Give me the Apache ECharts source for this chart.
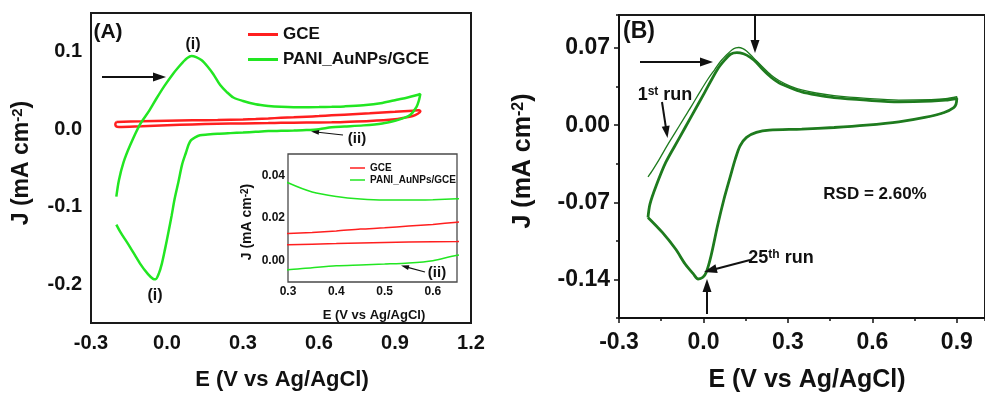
<!DOCTYPE html>
<html>
<head>
<meta charset="utf-8">
<script src="https://cdn.jsdelivr.net/npm/echarts@6/dist/echarts.min.js"></script>
<style>
  html, body { margin: 0; padding: 0; background: #ffffff; }
  #chart { width: 985px; height: 395px; }
</style>
</head>
<body>
<div id="chart"></div>
<script>
// ---------- Panel A: CVs of bare GCE and PANI_AuNPs/GCE ----------
const greenFwdE = [-0.2, -0.19, -0.172, -0.146, -0.107, -0.07, -0.041, -0.01, 0.025, 0.045, 0.064, 0.08, 0.097, 0.115, 0.137, 0.16, 0.183, 0.21, 0.236, 0.262, 0.3, 0.35, 0.4, 0.45, 0.5, 0.55, 0.6, 0.65, 0.7, 0.775, 0.85, 0.907, 0.95, 0.98, 1.0];
const greenFwdJ = [-0.087, -0.066, -0.043, -0.021, 0.006, 0.024, 0.040, 0.056, 0.072, 0.080, 0.087, 0.092, 0.0945, 0.093, 0.089, 0.081, 0.071, 0.057, 0.048, 0.041, 0.0365, 0.0322, 0.0301, 0.0289, 0.0284, 0.0284, 0.0286, 0.029, 0.0295, 0.031, 0.034, 0.038, 0.041, 0.0435, 0.0455];
const greenRevE = [1.0, 0.995, 0.985, 0.96, 0.93, 0.9, 0.85, 0.775, 0.7, 0.65, 0.6, 0.55, 0.5, 0.45, 0.4, 0.35, 0.3, 0.25, 0.2, 0.16, 0.13, 0.111, 0.095, 0.085, 0.075, 0.06, 0.045, 0.03, 0.018, 0.005, -0.008, -0.02, -0.032, -0.045, -0.055, -0.075, -0.107, -0.146, -0.185, -0.2];
const greenRevJ = [0.0455, 0.038, 0.029, 0.0184, 0.014, 0.011, 0.0075, 0.005, 0.0035, 0.0025, 0.0, -0.0011, -0.0016, -0.002, -0.0024, -0.0033, -0.0043, -0.0050, -0.0058, -0.0068, -0.0078, -0.0104, -0.014, -0.020, -0.030, -0.045, -0.068, -0.090, -0.112, -0.134, -0.155, -0.173, -0.186, -0.1935, -0.193, -0.187, -0.173, -0.152, -0.132, -0.123];

const redFwdE = [-0.2, -0.1, 0.0, 0.1, 0.2, 0.3, 0.35, 0.4, 0.45, 0.5, 0.55, 0.6, 0.65, 0.7, 0.8, 0.9, 0.97, 0.995];
const redFwdJ = [0.0095, 0.0102, 0.011, 0.0115, 0.012, 0.0127, 0.0132, 0.0139, 0.0148, 0.0154, 0.0162, 0.017, 0.018, 0.0188, 0.0205, 0.0225, 0.024, 0.0245];
const redRevE = [1.0, 0.99, 0.97, 0.93, 0.9, 0.8, 0.7, 0.65, 0.55, 0.45, 0.4, 0.3, 0.2, 0.1, 0.0, -0.1, -0.19, -0.2, -0.204, -0.2];
const redRevJ = [0.023, 0.020, 0.017, 0.0145, 0.013, 0.0108, 0.0095, 0.009, 0.0087, 0.0083, 0.008, 0.0075, 0.007, 0.0062, 0.0052, 0.004, 0.003, 0.0035, 0.0065, 0.0095];

// ---------- Panel B: 25 repeated cycles ----------
const run1FwdE = [-0.197, -0.18, -0.157, -0.13, -0.1, -0.07, -0.042, -0.013, 0.0155, 0.04, 0.061, 0.085, 0.102, 0.115, 0.125, 0.14, 0.153, 0.177, 0.211, 0.24, 0.268, 0.308, 0.349, 0.4, 0.464, 0.579, 0.694, 0.809, 0.86, 0.9];
const run1FwdJ = [-0.047, -0.0405, -0.031, -0.019, -0.0066, 0.006, 0.0175, 0.030, 0.0417, 0.0505, 0.058, 0.0645, 0.0685, 0.0702, 0.0705, 0.0695, 0.0673, 0.0613, 0.0525, 0.0455, 0.0405, 0.0355, 0.032, 0.0292, 0.0268, 0.0243, 0.0228, 0.0232, 0.024, 0.0258];
const runNFwdE = [-0.197, -0.19, -0.168, -0.134, -0.088, -0.042, 0.004, 0.05, 0.075, 0.096, 0.119, 0.142, 0.165, 0.188, 0.211, 0.24, 0.268, 0.308, 0.349, 0.4, 0.464, 0.579, 0.694, 0.809, 0.86, 0.9];
const runNFwdJ = [-0.0837, -0.0716, -0.055, -0.0338, -0.0127, 0.0084, 0.0296, 0.0508, 0.059, 0.0644, 0.0659, 0.0648, 0.0618, 0.057, 0.0505, 0.0435, 0.0385, 0.034, 0.0302, 0.0275, 0.025, 0.0227, 0.0212, 0.0218, 0.0227, 0.0242];
const runRevE = [0.9, 0.897, 0.889, 0.855, 0.786, 0.694, 0.579, 0.464, 0.349, 0.234, 0.188, 0.153, 0.13, 0.113, 0.096, 0.073, 0.05, 0.027, 0.01, -0.002, -0.019, -0.036, -0.065, -0.099, -0.146, -0.197];
const runRevJ = [0.0242, 0.019, 0.016, 0.0115, 0.007, 0.003, 0.0, -0.0021, -0.0036, -0.0045, -0.0066, -0.011, -0.0187, -0.0308, -0.046, -0.067, -0.0913, -0.1185, -0.1335, -0.138, -0.1396, -0.135, -0.126, -0.1124, -0.0973, -0.0837];

const FONT = '"Liberation Sans", Arial, sans-serif';
const INK = '#111111';
const RED = '#ff1f1f';
const GREEN = '#22e622';
const DARKGREEN = '#1e7b1e';

function zip(xs, ys) { return xs.map((x, i) => [x, ys[i]]); }
const greenLoop = zip(greenFwdE, greenFwdJ).concat(zip(greenRevE, greenRevJ));
const redLoop = zip(redFwdE, redFwdJ).concat(zip(redRevE, redRevJ));
const run1Loop = zip(run1FwdE, run1FwdJ).concat(zip(runRevE, runRevJ));
const runNLoop = zip(runNFwdE, runNFwdJ).concat(zip(runRevE, runRevJ));

function boldText(size) {
  return { color: INK, fontWeight: 'bold', fontFamily: FONT, fontSize: size };
}
function everyOther(step, digits) {
  return v => (Math.abs(Math.round(v / step)) % 2 === 0 ? v.toFixed(digits) : '');
}

function label(text, x, y, size, extra, rotation) {
  return {
    type: 'text', x: x, y: y, z: 100, rotation: rotation || 0,
    style: Object.assign({
      text: text, fill: INK, fontSize: size, fontWeight: 'bold', fontFamily: FONT,
      align: 'center', verticalAlign: 'middle', textAlign: 'center', textVerticalAlign: 'middle'
    }, extra || {})
  };
}
function supRich(size) {
  return { sup: { fontSize: size, fontWeight: 'bold', fontFamily: FONT, fill: INK, verticalAlign: 'top' } };
}
function arrow(x1, y1, x2, y2, w, hl, hw) {
  const dx = x2 - x1, dy = y2 - y1, L = Math.hypot(dx, dy), ux = dx / L, uy = dy / L;
  const bx = x2 - ux * hl, by = y2 - uy * hl, px = -uy, py = ux;
  return [
    { type: 'line', z: 100, shape: { x1: x1, y1: y1, x2: bx + ux, y2: by + uy }, style: { stroke: INK, lineWidth: w } },
    { type: 'polygon', z: 100, shape: { points: [[x2, y2], [bx + px * hw / 2, by + py * hw / 2], [bx - px * hw / 2, by - py * hw / 2]] }, style: { fill: INK } }
  ];
}

const graphics = [].concat(
  [
    label('(A)', 108, 32, 21),
    label('(i)', 193, 45, 16),
    label('(i)', 155, 296, 16),
    label('(ii)', 357, 139, 15),
    label('(ii)', 437, 273, 15),
    label('E (V vs Ag/AgCl)', 282, 380, 22),
    label('E (V vs Ag/AgCl)', 374, 315, 13),
    label('J (mA cm{sup|-2})', 22, 163, 23, { rich: supRich(15) }, Math.PI / 2),
    label('J (mA cm{sup|-2})', 247, 222, 14, { rich: supRich(10) }, Math.PI / 2),
    label('(B)', 639, 32, 23),
    label('E (V vs Ag/AgCl)', 807, 380, 25),
    label('J (mA cm{sup|-2})', 523, 161, 25, { rich: supRich(16) }, Math.PI / 2),
    label('RSD = 2.60%', 875, 194, 17),
    label('1{sup|st} run', 665, 95, 18, { rich: supRich(12) }),
    label('25{sup|th} run', 781, 258, 18, { rich: supRich(12) })
  ],
  arrow(102, 77, 166, 77, 2, 13, 9),
  arrow(343, 135, 311, 131.5, 1.2, 8, 5),
  arrow(425, 272, 401, 265.5, 1.2, 8, 5),
  arrow(640, 62, 713, 62, 2, 13, 9),
  arrow(755, 14, 755, 53, 2, 13, 9),
  arrow(662, 102, 667.5, 138, 2, 12, 8),
  arrow(750, 260, 704, 272, 2, 13, 9),
  arrow(707, 314, 707, 279, 2, 13, 9)
);

const chart = echarts.init(document.getElementById('chart'), null, { renderer: 'canvas' });
chart.setOption({
  animation: false,
  backgroundColor: '#ffffff',
  grid: [
    { left: 91, top: 13, width: 380, height: 310, show: true, borderColor: '#1a1a1a', borderWidth: 2, containLabel: false },
    { left: 288, top: 154, width: 169, height: 128, show: true, borderColor: '#4a4a4a', borderWidth: 1.3, containLabel: false },
    { left: 619, top: 15, width: 377, height: 303, show: true, borderColor: '#1a1a1a', borderWidth: 2, containLabel: false }
  ],
  xAxis: [
    { gridIndex: 0, type: 'value', position: 'bottom', min: -0.3, max: 1.2, interval: 0.3,
      axisLine: { show: false, onZero: false }, axisTick: { show: false }, splitLine: { show: false },
      axisLabel: Object.assign(boldText(20), { margin: 10, formatter: v => v.toFixed(1) }) },
    { gridIndex: 1, type: 'value', position: 'bottom', min: 0.3, max: 0.65, interval: 0.1,
      axisLine: { show: false, onZero: false }, axisTick: { show: false }, splitLine: { show: false },
      axisLabel: Object.assign(boldText(12), { margin: 4, showMaxLabel: false,
        formatter: v => (Math.abs(v * 10 - Math.round(v * 10)) < 1e-6 ? v.toFixed(1) : '') }) },
    { gridIndex: 2, type: 'value', position: 'bottom', min: -0.3, max: 1.0, interval: 0.3,
      axisLine: { show: true, onZero: false, lineStyle: { color: INK, width: 2 } },
      axisTick: { show: true, inside: false, length: 5, lineStyle: { color: INK, width: 1.5 } },
      splitLine: { show: false },
      axisLabel: Object.assign(boldText(23), { margin: 13, showMaxLabel: false, formatter: v => v.toFixed(1) }) },
    { gridIndex: 2, type: 'value', position: 'bottom', offset: 0, min: -0.3, max: 1.0, interval: 0.15,
      axisLine: { show: false, onZero: false },
      axisTick: { show: true, inside: false, length: 3, lineStyle: { color: INK, width: 1.5 } },
      splitLine: { show: false }, axisLabel: { show: false } }
  ],
  yAxis: [
    { gridIndex: 0, type: 'value', position: 'left', min: -0.25, max: 0.15, interval: 0.05,
      axisLine: { show: false, onZero: false }, axisTick: { show: false }, splitLine: { show: false },
      axisLabel: Object.assign(boldText(20), { margin: 9, formatter: everyOther(0.05, 1) }) },
    { gridIndex: 1, type: 'value', position: 'left', min: -0.01, max: 0.05, interval: 0.01,
      axisLine: { show: false, onZero: false }, axisTick: { show: false }, splitLine: { show: false },
      axisLabel: Object.assign(boldText(12), { margin: 3, formatter: everyOther(0.01, 2) }) },
    { gridIndex: 2, type: 'value', position: 'left', min: -0.175, max: 0.1, interval: 0.035,
      axisLine: { show: true, onZero: false, lineStyle: { color: INK, width: 2 } },
      axisTick: { show: true, inside: false, length: 3, lineStyle: { color: INK, width: 1.5 } },
      splitLine: { show: false },
      axisLabel: Object.assign(boldText(23), { margin: 9, formatter: everyOther(0.035, 2) }) },
    { gridIndex: 2, type: 'value', position: 'left', offset: 0, min: -0.175, max: 0.1,
      axisLine: { show: false, onZero: false },
      axisTick: { show: true, inside: false, length: 5, customValues: [-0.14, -0.07, 0, 0.07], lineStyle: { color: INK, width: 1.5 } },
      splitLine: { show: false }, axisLabel: { show: false } }
  ],
  legend: [
    { data: ['GCE', 'PANI_AuNPs/GCE'], orient: 'vertical', left: 248, top: 26, padding: 0, icon: 'rect', itemWidth: 30, itemHeight: 3, itemGap: 8,
      selectedMode: false, textStyle: boldText(17) },
    { data: ['GCE', 'PANI_AuNPs/GCE'], orient: 'vertical', left: 350, top: 163, padding: 0, icon: 'rect', itemWidth: 15, itemHeight: 1.5, itemGap: 2,
      selectedMode: false, textStyle: boldText(10) }
  ],
  series: [
    { name: 'GCE', type: 'line', xAxisIndex: 0, yAxisIndex: 0, data: redLoop, symbol: 'none', smooth: 0.3,
      lineStyle: { color: RED, width: 2.5 }, itemStyle: { color: RED } },
    { name: 'PANI_AuNPs/GCE', type: 'line', xAxisIndex: 0, yAxisIndex: 0, data: greenLoop, symbol: 'none', smooth: 0.3,
      lineStyle: { color: GREEN, width: 2.5 }, itemStyle: { color: GREEN } },
    { name: 'GCE', type: 'line', xAxisIndex: 1, yAxisIndex: 1, data: redLoop, symbol: 'none', smooth: 0.3, clip: true,
      lineStyle: { color: RED, width: 1.5 }, itemStyle: { color: RED } },
    { name: 'PANI_AuNPs/GCE', type: 'line', xAxisIndex: 1, yAxisIndex: 1, data: greenLoop, symbol: 'none', smooth: 0.3, clip: true,
      lineStyle: { color: GREEN, width: 1.5 }, itemStyle: { color: GREEN } },
    { name: '1st run', type: 'line', xAxisIndex: 2, yAxisIndex: 2, data: run1Loop, symbol: 'none', smooth: 0.3,
      lineStyle: { color: DARKGREEN, width: 1.3 }, itemStyle: { color: DARKGREEN } },
    { name: '25th run', type: 'line', xAxisIndex: 2, yAxisIndex: 2, data: runNLoop, symbol: 'none', smooth: 0.3,
      lineStyle: { color: DARKGREEN, width: 2.8 }, itemStyle: { color: DARKGREEN } }
  ],
  graphic: { elements: graphics }
});
</script>
</body>
</html>
